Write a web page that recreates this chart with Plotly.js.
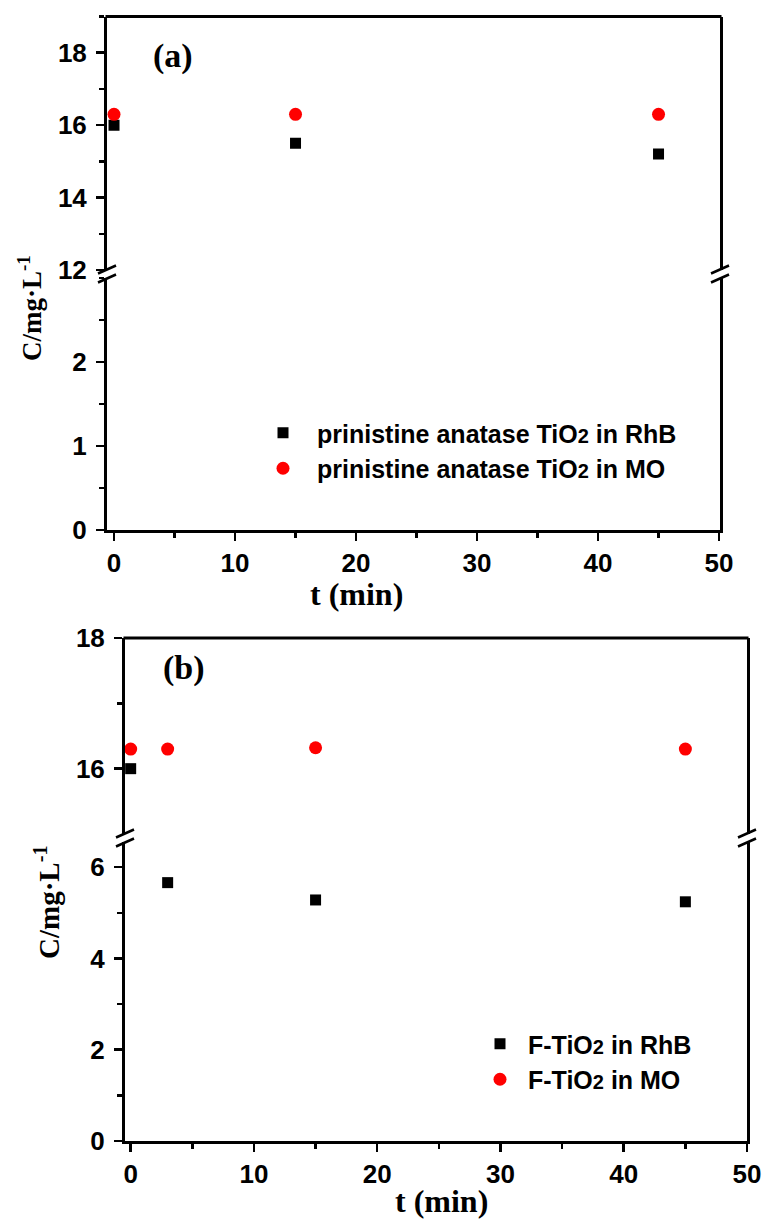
<!DOCTYPE html>
<html>
<head>
<meta charset="utf-8">
<script src="https://cdn.plot.ly/plotly-3.0.1.min.js"></script>
<style>html,body{margin:0;padding:0;background:#fff;}#chart{width:766px;height:1225px;}</style>
</head>
<body>
<div id="chart"></div>
<script>
// ---- data ----
const tA = [0, 15, 45];
const rhbA = [16.0, 15.5, 15.2];
const moA = [16.3, 16.3, 16.3];
const tB = [0, 3, 15, 45];
const rhbB = [16.0, 5.66, 5.28, 5.24];
const moB = [16.3, 16.3, 16.32, 16.3];
const nameA1 = 'prinistine anatase TiO<span style="font-size:20px">2</span> in RhB';
const nameA2 = 'prinistine anatase TiO<span style="font-size:20px">2</span> in MO';
const nameB1 = 'F-TiO<span style="font-size:20px">2</span> in RhB';
const nameB2 = 'F-TiO<span style="font-size:20px">2</span> in MO';
const yTicksAUp = [12, 14, 16, 18];
const yTicksALo = [0, 1, 2];
const yTicksBUp = [16, 18];
const yTicksBLo = [0, 2, 4, 6];

// ---- geometry helpers (pixels -> paper) ----
const W = 766, H = 1225;
const px = x => x / W;
const py = y => 1 - y / H;

const sq = {symbol: 'square', size: 11, color: '#000000'};
const ci = {symbol: 'circle', size: 13, color: '#ff0000'};

const traces = [
  {x: tA, y: rhbA, xaxis: 'x', yaxis: 'y', mode: 'markers', marker: sq, name: nameA1, legend: 'legend'},
  {x: tA, y: moA, xaxis: 'x', yaxis: 'y', mode: 'markers', marker: ci, name: nameA2, legend: 'legend'},
  {x: tA, y: rhbA, xaxis: 'x', yaxis: 'y2', mode: 'markers', marker: sq, showlegend: false},
  {x: tA, y: moA, xaxis: 'x', yaxis: 'y2', mode: 'markers', marker: ci, showlegend: false},
  {x: tB, y: rhbB, xaxis: 'x2', yaxis: 'y3', mode: 'markers', marker: sq, name: nameB1, legend: 'legend2'},
  {x: tB, y: moB, xaxis: 'x2', yaxis: 'y3', mode: 'markers', marker: ci, name: nameB2, legend: 'legend2'},
  {x: tB, y: rhbB, xaxis: 'x2', yaxis: 'y4', mode: 'markers', marker: sq, showlegend: false},
  {x: tB, y: moB, xaxis: 'x2', yaxis: 'y4', mode: 'markers', marker: ci, showlegend: false}
];

const tickFont = {family: 'Liberation Sans, Arial, sans-serif', size: 26, color: '#000', weight: 'bold'};
const minorT = {ticks: 'outside', ticklen: 5, tickwidth: 2.5, tickcolor: '#000'};
const axBase = {
  showline: true, linewidth: 3, linecolor: '#000', showgrid: false, zeroline: false,
  ticks: 'outside', ticklen: 8, tickwidth: 2.5, tickcolor: '#000', tickfont: tickFont
};
const xBase = Object.assign({}, axBase, {dtick: 10, tick0: 0, ticklabelstandoff: 0,
  minor: Object.assign({dtick: 5}, minorT)});
const yBase = Object.assign({}, axBase, {mirror: true, ticklabelstandoff: 4, tickmode: 'array'});

const legFont = {family: 'Liberation Sans, Arial, sans-serif', size: 25, color: '#000', weight: 'bold'};
const serif = 'Liberation Serif, Times New Roman, serif';

const layout = {
  width: W, height: H,
  margin: {l: 0, r: 0, t: 0, b: 0},
  paper_bgcolor: '#fff', plot_bgcolor: '#fff',
  showlegend: true,
  xaxis: Object.assign({}, xBase, {anchor: 'y2', domain: [px(107), px(720)], range: [-0.58, 50.08]}),
  xaxis2: Object.assign({}, xBase, {anchor: 'y4', domain: [px(125), px(747)], range: [-0.46, 50.0]}),
  yaxis: Object.assign({}, yBase, {anchor: 'x', domain: [py(270), py(16.5)], range: [12, 19],
    tickvals: yTicksAUp, minor: Object.assign({dtick: 1}, minorT)}),
  yaxis2: Object.assign({}, yBase, {anchor: 'x', domain: [py(530), py(278)], range: [0, 3],
    tickvals: yTicksALo, minor: Object.assign({dtick: 0.5}, minorT)}),
  yaxis3: Object.assign({}, yBase, {anchor: 'x2', domain: [py(834), py(638)], range: [15, 18],
    tickvals: yTicksBUp, minor: Object.assign({tickvals: [17]}, minorT)}),
  yaxis4: Object.assign({}, yBase, {anchor: 'x2', domain: [py(1141), py(842)], range: [0, 6.55],
    tickvals: yTicksBLo, minor: Object.assign({dtick: 1}, minorT)}),
  legend: {x: px(249), y: py(410), xanchor: 'left', yanchor: 'top', bgcolor: 'rgba(0,0,0,0)',
    itemwidth: 58, font: legFont},
  legend2: {x: px(472), y: py(1021), xanchor: 'left', yanchor: 'top', bgcolor: 'rgba(0,0,0,0)',
    itemwidth: 46, font: legFont},
  annotations: [
    {text: '(a)', xref: 'paper', yref: 'paper', x: px(173), y: py(56), showarrow: false, xanchor: 'center', yanchor: 'middle',
      font: {family: serif, size: 34, color: '#000', weight: 'bold'}},
    {text: '(b)', xref: 'paper', yref: 'paper', x: px(184), y: py(668), showarrow: false, xanchor: 'center', yanchor: 'middle',
      font: {family: serif, size: 34, color: '#000', weight: 'bold'}},
    {text: 't (min)', xref: 'paper', yref: 'paper', x: px(356), y: py(594), showarrow: false, xanchor: 'center', yanchor: 'middle',
      font: {family: serif, size: 32, color: '#000', weight: 'bold'}},
    {text: 't (min)', xref: 'paper', yref: 'paper', x: px(441), y: py(1201), showarrow: false, xanchor: 'center', yanchor: 'middle',
      font: {family: serif, size: 32, color: '#000', weight: 'bold'}},
    {text: 'C/mg·L<sup>-1</sup>', xref: 'paper', yref: 'paper', x: px(30), y: py(308), showarrow: false, textangle: -90,
      xanchor: 'center', yanchor: 'middle',
      font: {family: serif, size: 27, color: '#000', weight: 'bold'}},
    {text: 'C/mg·L<sup>-1</sup>', xref: 'paper', yref: 'paper', x: px(47), y: py(902), showarrow: false, textangle: -90,
      xanchor: 'center', yanchor: 'middle',
      font: {family: serif, size: 29, color: '#000', weight: 'bold'}}
  ],
  shapes: [
    {type: 'line', xref: 'paper', yref: 'paper', x0: px(105.5), x1: px(721.5), y0: py(16.5), y1: py(16.5),
      line: {color: '#000', width: 3}},
    {type: 'line', xref: 'paper', yref: 'paper', x0: px(123.5), x1: px(748.5), y0: py(638), y1: py(638),
      line: {color: '#000', width: 3}}
  ]
};

// axis-break marks
const breaks = [[107, 274], [720, 274], [125, 838], [747, 838]];
breaks.forEach(([cx, cy]) => {
  [-4.5, 4.5].forEach(off => {
    layout.shapes.push({type: 'line', xref: 'paper', yref: 'paper',
      x0: px(cx - 9), y0: py(cy + off + 4), x1: px(cx + 9), y1: py(cy + off - 4),
      line: {color: '#000', width: 2.5}});
  });
});

Plotly.newPlot('chart', traces, layout, {displayModeBar: false, staticPlot: true});
</script>
</body>
</html>
